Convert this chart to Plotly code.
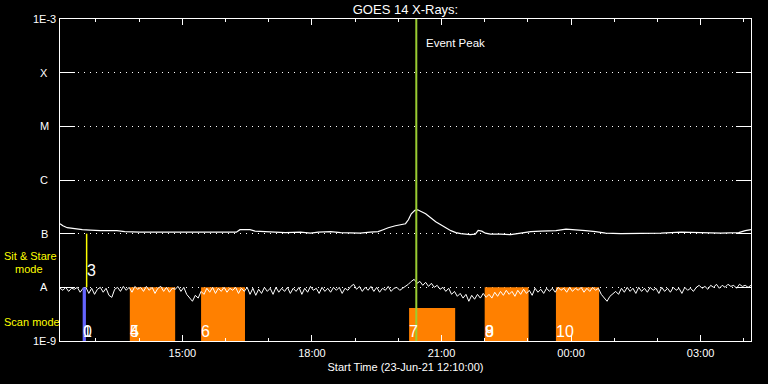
import numpy as np
import pandas as pd
import plotly.graph_objects as go

START = pd.Timestamp("2021-06-23 12:10:00")
END = pd.Timestamp("2021-06-24 04:10:00")

# ---- long channel (1-8 A) : minutes after start, flux in units of 1e-7 W/m^2
long_min = [0, 4, 10, 19, 31, 42, 56, 79, 90, 111, 146, 160, 195, 237, 245, 250, 264, 271,
            285, 313, 334, 348, 359, 376, 390, 417, 431, 442, 449, 456, 466, 473, 480, 484,
            488, 493, 497, 501, 508, 515, 522, 529, 536, 543, 550, 557, 570, 577, 581, 586,
            591, 598, 612, 626, 640, 654, 668, 689, 703, 717, 730, 744, 758, 779, 821, 835,
            863, 890, 918, 943, 952, 960]
long_flux_e7 = [1.532, 1.406, 1.292, 1.238, 1.186, 1.161, 1.137, 1.137, 1.089, 1.066, 1.066,
                1.044, 1.044, 1.044, 1.066, 1.186, 1.186, 1.112, 1.089, 1.044, 1.066, 1.022,
                1.066, 1.089, 1.044, 1.022, 1.066, 1.089, 1.186, 1.292, 1.406, 1.468, 1.532,
                1.817, 2.346, 2.724, 2.783, 2.610, 2.346, 1.979, 1.668, 1.468, 1.292, 1.137,
                1.044, 1.000, 0.958, 0.979, 1.151, 1.112, 1.022, 0.979, 0.979, 0.958, 1.022,
                1.089, 1.112, 1.137, 1.212, 1.186, 1.137, 1.089, 1.022, 1.000, 1.000, 1.022,
                1.066, 1.044, 1.022, 1.044, 1.137, 1.186]

# ---- short channel (0.5-4 A) : one reading every 4 minutes, flux in units of 1e-9 W/m^2
short_step_min = 4
short_flux_e9 = [
    9.6, 8.8, 10.0, 8.4, 9.6, 9.2, 10.0, 8.1, 9.6, 10.0,
    7.7, 9.6, 7.4, 9.2, 10.0, 8.1, 9.6, 7.1, 6.5, 9.2,
    10.0, 8.4, 10.4, 8.8, 10.0, 8.1, 10.4, 9.2, 10.0, 8.4,
    10.4, 8.8, 10.0, 7.7, 9.6, 10.4, 8.4, 10.0, 8.1, 9.6,
    9.2, 10.4, 8.4, 10.0, 7.4, 6.5, 5.5, 7.1, 6.3, 8.4,
    7.4, 9.6, 8.1, 10.0, 7.7, 9.6, 8.4, 10.0, 8.1, 9.6,
    8.8, 10.0, 7.7, 9.6, 8.4, 10.0, 7.4, 9.6, 7.1, 9.2,
    7.7, 10.0, 8.4, 9.6, 7.4, 10.0, 8.1, 9.6, 8.4, 10.0,
    7.7, 9.6, 8.4, 10.0, 7.4, 9.6, 8.1, 10.4, 8.8, 9.6,
    7.7, 10.0, 8.4, 9.6, 8.1, 10.0, 8.8, 10.0, 7.7, 9.6,
    8.8, 10.4, 11.4, 9.2, 10.4, 8.4, 10.0, 8.8, 10.4, 8.4,
    10.0, 8.1, 9.6, 8.8, 10.4, 8.4, 9.6, 10.0, 8.8, 9.6,
    10.4, 11.4, 12.9, 14.1, 11.9, 12.9, 10.9, 12.4, 10.4, 11.9,
    10.0, 10.9, 9.2, 10.0, 8.4, 9.6, 7.4, 8.4, 6.8, 7.7,
    6.3, 7.4, 5.5, 7.1, 6.0, 7.4, 6.3, 7.7, 6.5, 7.4,
    6.3, 8.1, 6.8, 8.4, 7.1, 8.8, 7.4, 8.4, 6.8, 8.8,
    7.4, 9.2, 7.7, 8.8, 7.1, 9.6, 8.1, 9.2, 7.7, 9.6,
    8.4, 9.6, 8.1, 10.0, 8.8, 9.6, 8.1, 10.0, 8.4, 9.6,
    8.8, 10.0, 8.1, 9.6, 8.4, 10.0, 8.8, 9.6, 7.4, 6.5,
    5.5, 6.8, 7.7, 8.4, 7.4, 9.6, 8.1, 10.0, 8.4, 9.6,
    7.7, 10.0, 8.4, 9.6, 8.1, 10.0, 8.8, 9.6, 7.7, 10.0,
    8.4, 9.6, 8.1, 10.0, 8.8, 9.6, 7.7, 10.0, 8.8, 9.6,
    8.4, 10.0, 10.9, 9.6, 10.4, 9.2, 10.9, 10.0, 11.4, 9.6,
    10.9, 10.0, 11.4, 10.4, 10.9, 9.6, 11.4, 10.4, 10.9, 10.0,
    10.9,
]

# ---- observation blocks
sit_time = "2021-06-23 12:47:00"
sit_lo, sit_hi = 1e-8, 1e-7
blue_start, blue_end = "2021-06-23 12:41:30", "2021-06-23 12:46:00"
blue_lo, blue_hi = 1e-9, 1e-8
scan_start = ["2021-06-23 13:47", "2021-06-23 15:26", "2021-06-23 20:15",
              "2021-06-23 22:00", "2021-06-23 23:39"]
scan_end = ["2021-06-23 14:50", "2021-06-23 16:27", "2021-06-23 21:19",
            "2021-06-23 23:01", "2021-06-24 00:39"]
scan_top = [1e-8, 1e-8, 4.1e-9, 1e-8, 1e-8]
scan_bottom = 1e-9
event_peak = "2021-06-23 20:25"

num_text = ["0", "1", "3", "4", "5", "6", "7", "8", "9", "10"]
num_time = ["2021-06-23 12:41:30", "2021-06-23 12:41:30", "2021-06-23 12:47:30",
            "2021-06-23 13:47", "2021-06-23 13:47", "2021-06-23 15:26",
            "2021-06-23 20:15", "2021-06-23 22:00", "2021-06-23 22:00", "2021-06-23 23:39"]
num_flux = [1.53e-9, 1.53e-9, 2.07e-8, 1.53e-9, 1.53e-9, 1.53e-9,
            1.53e-9, 1.53e-9, 1.53e-9, 1.53e-9]

ytick_vals = [1e-9, 1e-8, 1e-7, 1e-6, 1e-5, 1e-4, 1e-3]
ytick_text = ["1E-9", "A", "B", "C", "M", "X", "1E-3"]

FONT = "Liberation Sans"
ORANGE = "#ff8000"

long_t = [START + pd.Timedelta(minutes=m) for m in long_min]
long_f = [v * 1e-7 for v in long_flux_e7]
short_t = [START + pd.Timedelta(minutes=short_step_min * i) for i in range(len(short_flux_e9))]
short_f = [v * 1e-9 for v in short_flux_e9]

fig = go.Figure()

# scan-mode blocks
for s, e, top in zip(scan_start, scan_end, scan_top):
    fig.add_trace(go.Scatter(x=[s, s, e, e, s], y=[scan_bottom, top, top, scan_bottom, scan_bottom],
                             mode="lines", fill="toself", fillcolor=ORANGE,
                             line=dict(width=0, color=ORANGE), hoverinfo="skip", showlegend=False))

# curves
fig.add_trace(go.Scatter(x=long_t, y=long_f, mode="lines", line=dict(color="white", width=1.2),
                         showlegend=False))
fig.add_trace(go.Scatter(x=short_t, y=short_f, mode="lines", line=dict(color="white", width=1),
                         showlegend=False))

# blue block
fig.add_trace(go.Scatter(x=[blue_start, blue_start, blue_end, blue_end, blue_start],
                         y=[blue_lo, blue_hi, blue_hi, blue_lo, blue_lo],
                         mode="lines", fill="toself", fillcolor="#6464ff",
                         line=dict(width=0, color="#6464ff"), hoverinfo="skip", showlegend=False))
# sit & stare line
fig.add_trace(go.Scatter(x=[sit_time, sit_time], y=[sit_lo, sit_hi], mode="lines",
                         line=dict(color="#ffff00", width=1.5), showlegend=False))
# event peak line
fig.add_trace(go.Scatter(x=[event_peak, event_peak], y=[1e-9, 1e-3], mode="lines",
                         line=dict(color="#9acd32", width=2), showlegend=False))

plot_top, plot_h = 19, 324
ann = []
for txt, tm, fl in zip(num_text, num_time, num_flux):
    ann.append(dict(x=tm, y=np.log10(fl), xref="x", yref="y", text=txt, showarrow=False,
                    xanchor="left", yanchor="middle", xshift=-2,
                    font=dict(family=FONT, size=16, color="white")))
for v, t in zip(ytick_vals, ytick_text):
    ann.append(dict(x=0, y=np.log10(v), xref="paper", yref="y", text=t, showarrow=False,
                    xanchor="center", yanchor="middle", xshift=-16,
                    font=dict(family=FONT, size=11, color="white")))
ann.append(dict(x=event_peak, y=np.log10(1e-3), xref="x", yref="y", text="Event Peak",
                showarrow=False, xanchor="left", yanchor="middle", xshift=8, yshift=-24,
                font=dict(family=FONT, size=11.5, color="white")))
for txt, pix, dx in [("Sit & Stare", 257, -58), ("mode", 271, -47), ("Scan mode", 324, -58)]:
    ann.append(dict(x=0, y=1 - (pix - plot_top) / plot_h, xref="paper", yref="paper", text=txt,
                    showarrow=False, xanchor="left", yanchor="middle", xshift=dx,
                    font=dict(family=FONT, size=11, color="#ffff00")))

fig.update_layout(
    width=768, height=384,
    margin=dict(l=60, r=17, t=19, b=41),
    paper_bgcolor="black", plot_bgcolor="black",
    font=dict(family=FONT, size=11, color="white"),
    title=dict(text="GOES 14 X-Rays:", x=0.5, xref="paper", y=1 - 9 / 384, yref="container",
               xanchor="center", yanchor="middle", font=dict(family=FONT, size=13, color="white")),
    annotations=ann,
    showlegend=False,
)
fig.update_xaxes(
    type="date", range=[START, END],
    tickmode="linear", tick0="2021-06-23 00:00", dtick=3 * 3600000, tickformat="%H:%M",
    ticks="inside", ticklen=6, tickcolor="white", tickwidth=1,
    minor=dict(dtick=3600000, ticks="inside", ticklen=3, tickcolor="white", tickwidth=1, showgrid=False),
    showline=True, linecolor="white", linewidth=1, mirror="ticks",
    showgrid=False, zeroline=False, ticklabelstandoff=2,
    tickfont=dict(family=FONT, size=11, color="white"),
    title=dict(text="Start Time (23-Jun-21 12:10:00)", font=dict(family=FONT, size=11, color="white"), standoff=5),
)
fig.update_yaxes(
    type="log", range=[-9, -3],
    tickmode="array", tickvals=ytick_vals, showticklabels=False,
    ticks="inside", ticklen=15, tickcolor="white", tickwidth=1,
    showline=True, linecolor="white", linewidth=1, mirror="ticks",
    showgrid=True, gridcolor="white", gridwidth=1, griddash="1px,5px", zeroline=False,
)

fig.write_html("out.html", config={"displayModeBar": False},
               post_script="document.body.style.margin='0';document.body.style.background='black';")
